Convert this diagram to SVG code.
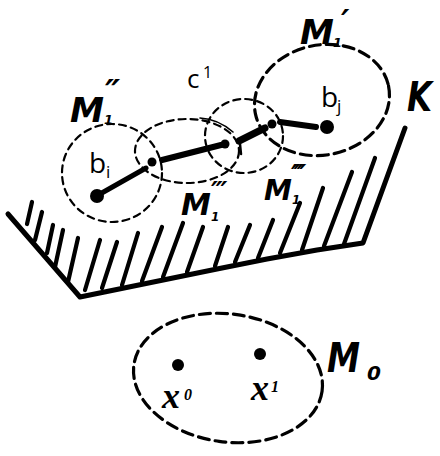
<svg xmlns="http://www.w3.org/2000/svg" width="440" height="456" viewBox="0 0 440 456">
<style>
.bg{fill:#fff}
.dt{fill:none;stroke:#000;stroke-width:2.2;stroke-dasharray:7 5;stroke-linecap:round}
.dk{fill:none;stroke:#000;stroke-width:3.2;stroke-dasharray:11 6;stroke-linecap:round}
.solid{fill:none;stroke:#000;stroke-linecap:round;stroke-linejoin:round}
.hatch{stroke:#000;stroke-width:4.2;stroke-linecap:round}
.dot{fill:#000}
.hand{font-family:"DejaVu Sans",sans-serif;font-style:italic;font-weight:bold;fill:#000}
.lbl{font-family:"Open Sans","DejaVu Sans",sans-serif;fill:#000}
.script{font-family:"Liberation Serif",serif;font-style:italic;font-weight:bold;fill:#000}
</style>
<rect class="bg" x="0" y="0" width="440" height="456"/>

<g id="surface-K">
  <polyline class="solid" stroke-width="5" points="8,214 80,297 217,269 267,259 317,250 363,243 405,128"/>
  <line class="hatch" x1="32" y1="202" x2="27" y2="224"/>
  <line class="hatch" x1="42" y1="212" x2="35" y2="240"/>
  <line class="hatch" x1="53" y1="225" x2="47" y2="253"/>
  <line class="hatch" x1="63" y1="230" x2="55" y2="267"/>
  <line class="hatch" x1="78" y1="238" x2="68" y2="282"/>
  <line class="hatch" x1="100" y1="240" x2="85" y2="290"/>
  <line class="hatch" x1="117" y1="242" x2="102" y2="288"/>
  <line class="hatch" x1="138" y1="233" x2="122" y2="285"/>
  <line class="hatch" x1="162" y1="227" x2="142" y2="281"/>
  <line class="hatch" x1="183" y1="223" x2="163" y2="277"/>
  <line class="hatch" x1="203" y1="227" x2="187" y2="272"/>
  <line class="hatch" x1="228" y1="227" x2="215" y2="266"/>
  <line class="hatch" x1="250" y1="225" x2="235" y2="262"/>
  <line class="hatch" x1="273" y1="220" x2="258" y2="258"/>
  <line class="hatch" x1="300" y1="203" x2="280" y2="253"/>
  <line class="hatch" x1="323" y1="188" x2="302" y2="250"/>
  <line class="hatch" x1="352" y1="172" x2="324" y2="246"/>
  <line class="hatch" x1="375" y1="158" x2="344" y2="244"/>
  <text class="hand" x="407" y="111" font-size="40" font-style="normal" textLength="25" lengthAdjust="spacingAndGlyphs">K</text>
</g>

<g id="M1pp">
  <ellipse class="dt" cx="112" cy="173" rx="50" ry="49" stroke-dasharray="9 5"/>
  <text class="hand" x="70" y="122" font-size="34" textLength="34" lengthAdjust="spacingAndGlyphs">M</text>
  <text class="hand" x="104" y="124" font-size="13">1</text>
  <text class="hand" x="105" y="104" font-size="34">″</text>
</g>

<g id="M1ppp">
  <ellipse class="dt" cx="187" cy="151" rx="52" ry="32"/>
  <text class="hand" x="181" y="215" font-size="30">M</text>
  <text class="hand" x="211" y="221" font-size="12">1</text>
  <text class="hand" x="211" y="201" font-size="26">‴</text>
</g>

<g id="M1pppp">
  <ellipse class="dt" cx="244" cy="136" rx="39" ry="37"/>
  <text class="hand" x="264" y="200" font-size="28">M</text>
  <text class="hand" x="292" y="204" font-size="12">1</text>
  <text class="hand" x="291" y="184" font-size="26" letter-spacing="-4">′′′′</text>
</g>

<g id="M1p">
  <ellipse class="dk" cx="322" cy="100" rx="68" ry="55" transform="rotate(-12 322 100)"/>
  <text class="hand" x="300" y="44" font-size="34">M</text>
  <text class="hand" x="333" y="47" font-size="13">1</text>
  <text class="hand" x="341" y="32" font-size="32">′</text>
</g>

<g id="c1">
  <text class="lbl" x="187" y="88" font-size="26">c</text>
  <text class="lbl" x="203" y="78" font-size="16">1</text>
</g>

<g id="connectors">
  <path class="solid" stroke-width="1.6" d="M200,118 Q218,119 233,132"/>
  <line class="solid" stroke-width="5" x1="100" y1="194" x2="146" y2="168"/>
  <line class="solid" stroke-width="6" x1="162" y1="160" x2="221" y2="145"/>
  <line class="solid" stroke-width="7" x1="239" y1="141" x2="265" y2="128"/>
  <line class="solid" stroke-width="2.5" x1="240" y1="144" x2="241" y2="154"/>
  <line class="solid" stroke-width="6" x1="280" y1="122" x2="316" y2="127"/>
  <circle class="dot" cx="152" cy="162" r="4.5"/>
  <circle class="dot" cx="225" cy="144" r="4.5"/>
  <circle class="dot" cx="272" cy="124" r="4.5"/>
</g>

<g id="bi">
  <circle class="dot" cx="97" cy="196" r="7"/>
  <text class="lbl" x="89" y="173" font-size="28">b</text>
  <text class="lbl" x="106" y="178" font-size="17">i</text>
</g>

<g id="bj">
  <circle class="dot" cx="327" cy="127" r="7"/>
  <text class="lbl" x="321" y="107" font-size="28">b</text>
  <text class="lbl" x="337" y="112" font-size="17">j</text>
</g>

<g id="M0">
  <ellipse class="dk" cx="228" cy="378" rx="95" ry="64" transform="rotate(8 228 378)"/>
  <text class="hand" x="327" y="372" font-size="40" textLength="33" lengthAdjust="spacingAndGlyphs">M</text>
  <text class="hand" x="367" y="380" font-size="20">0</text>
</g>

<g id="x0">
  <circle class="dot" cx="178" cy="365" r="6"/>
  <text class="script" x="162" y="408" font-size="36">x</text>
  <text class="script" x="184" y="400" font-size="16">0</text>
</g>

<g id="x1">
  <circle class="dot" cx="260" cy="354" r="6"/>
  <text class="script" x="251" y="400" font-size="36">x</text>
  <text class="script" x="271" y="392" font-size="16">1</text>
</g>
</svg>
